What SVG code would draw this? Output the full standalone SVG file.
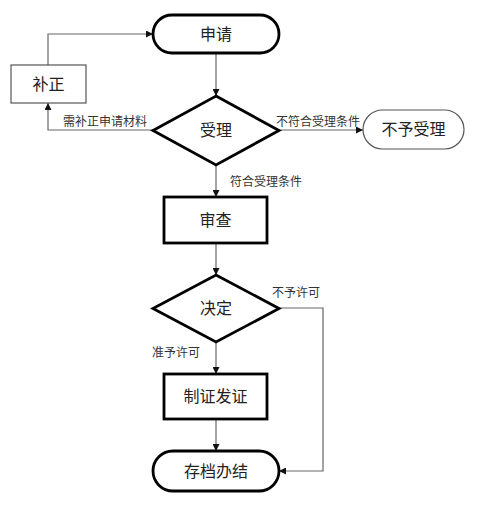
<svg xmlns="http://www.w3.org/2000/svg" width="478" height="527" viewBox="0 0 478 527">
<style>
.thick{fill:#fff;stroke:#000;stroke-width:2.8}
.thin{fill:#fff;stroke:#555;stroke-width:1.2}
.node{font-family:"Liberation Serif","Noto Sans CJK SC",serif;font-size:16px;fill:#222;text-anchor:middle;dominant-baseline:central}
.lbl{font-family:"Liberation Serif","Noto Sans CJK SC",serif;font-size:12px;fill:#333;dominant-baseline:central}
.conn{fill:none;stroke:#666;stroke-width:1.2}
</style>
<defs>
<marker id="ah" viewBox="0 0 10 10" refX="10" refY="5" markerWidth="7" markerHeight="7" orient="auto" markerUnits="userSpaceOnUse">
<path d="M0,0 L10,5 L0,10 z" fill="#111"/>
</marker>
</defs>
<rect width="478" height="527" fill="#fff"/>
<g id="connectors">
<path class="conn" d="M216,53 V96" marker-end="url(#ah)"/>
<path class="conn" d="M48,65 V34 H153" marker-end="url(#ah)"/>
<path class="conn" d="M153,130 H48 V103" marker-end="url(#ah)"/>
<path class="conn" d="M279,130 H363" marker-end="url(#ah)"/>
<path class="conn" d="M216,165 V197" marker-end="url(#ah)"/>
<path class="conn" d="M216,243 V275" marker-end="url(#ah)"/>
<path class="conn" d="M279,308 H323 V471 H279" marker-end="url(#ah)"/>
<path class="conn" d="M216,342 V374" marker-end="url(#ah)"/>
<path class="conn" d="M216,419 V451" marker-end="url(#ah)"/>
<text class="lbl" x="63" y="122">需补正申请材料</text>
<text class="lbl" x="276" y="122">不符合受理条件</text>
<text class="lbl" x="230" y="182">符合受理条件</text>
<text class="lbl" x="272" y="293">不予许可</text>
<text class="lbl" x="152" y="353">准予许可</text>
</g>
<g id="shenqing">
<rect class="thick" x="153" y="15" width="126" height="38" rx="19"/>
<text class="node" x="216" y="34">申请</text>
</g>
<g id="buzheng">
<rect class="thin" x="11" y="65" width="75" height="38"/>
<text class="node" x="48.5" y="84">补正</text>
</g>
<g id="shouli">
<polygon class="thick" points="216,96 279,130.5 216,165 153,130.5"/>
<text class="node" x="216" y="130.5">受理</text>
</g>
<g id="buyushouli">
<rect class="thin" x="363" y="110" width="101" height="39" rx="19.5"/>
<text class="node" x="413.5" y="129.5">不予受理</text>
</g>
<g id="shencha">
<rect class="thick" x="164" y="197" width="103" height="46"/>
<text class="node" x="215.5" y="220">审查</text>
</g>
<g id="jueding">
<polygon class="thick" points="216,275 279,308.5 216,342 153,308.5"/>
<text class="node" x="216" y="308.5">决定</text>
</g>
<g id="zhizheng">
<rect class="thick" x="164" y="374" width="103" height="45"/>
<text class="node" x="215.5" y="396.5">制证发证</text>
</g>
<g id="cundang">
<rect class="thick" x="153" y="451" width="126" height="40" rx="20"/>
<text class="node" x="216" y="471">存档办结</text>
</g>
</svg>
